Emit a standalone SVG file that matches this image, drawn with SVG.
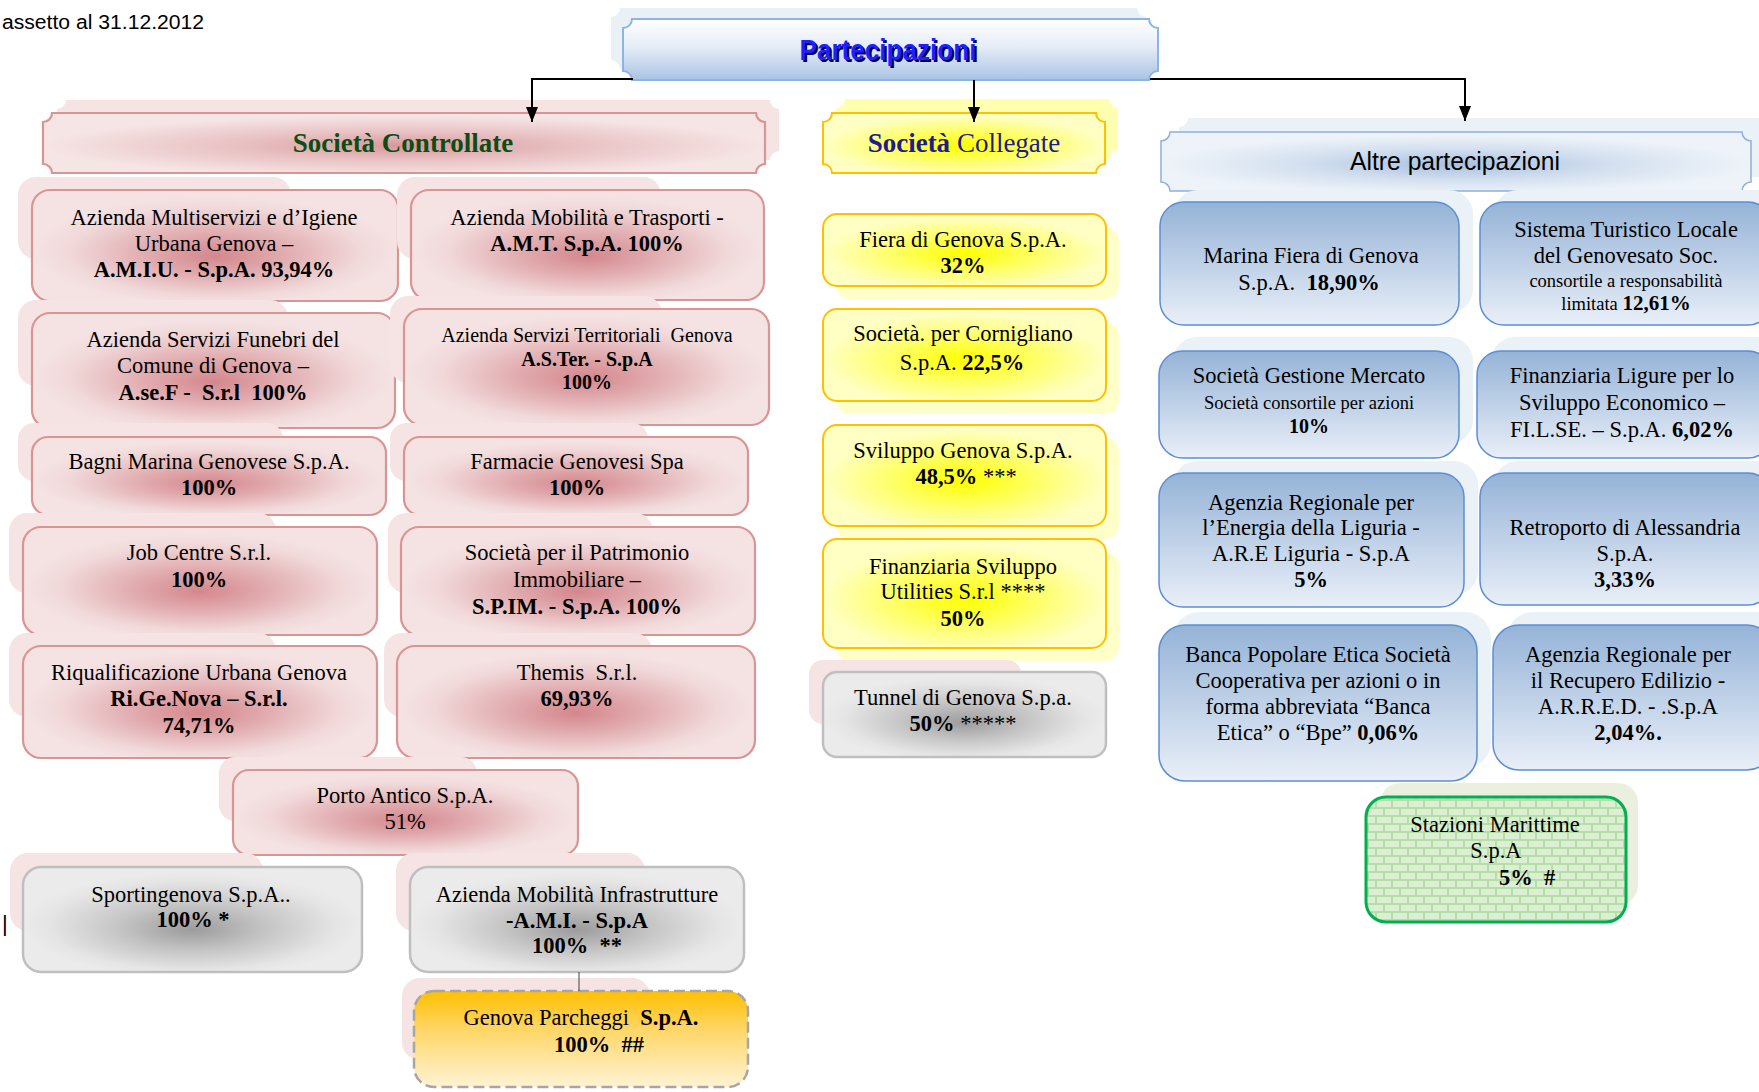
<svg xmlns="http://www.w3.org/2000/svg" width="1759" height="1092" viewBox="0 0 1759 1092">
<defs>
<radialGradient id="gPink" cx="50%" cy="55%" r="50%" fx="50%" fy="60%">
<stop offset="0" stop-color="#d4878d"/><stop offset="0.4" stop-color="#e2aeb1"/><stop offset="0.8" stop-color="#f1d9da"/><stop offset="1" stop-color="#f5e3e3"/>
</radialGradient>
<radialGradient id="gHeadPink" cx="50%" cy="55%" r="50%">
<stop offset="0" stop-color="#d8979a"/><stop offset="0.45" stop-color="#e8c0c2"/><stop offset="1" stop-color="#f6e5e5"/>
</radialGradient>
<radialGradient id="gGray" cx="50%" cy="55%" r="50%" fx="50%" fy="60%">
<stop offset="0" stop-color="#9c9c9c"/><stop offset="0.45" stop-color="#c6c6c6"/><stop offset="0.85" stop-color="#e5e5e5"/><stop offset="1" stop-color="#ebebeb"/>
</radialGradient>
<radialGradient id="gYellow" cx="50%" cy="55%" r="50%">
<stop offset="0" stop-color="#ffff00"/><stop offset="0.5" stop-color="#ffff66"/><stop offset="1" stop-color="#ffffc4"/>
</radialGradient>
<linearGradient id="gBlue" x1="0" y1="0" x2="0" y2="1">
<stop offset="0" stop-color="#95b3d7"/><stop offset="1" stop-color="#e9eff8"/>
</linearGradient>
<linearGradient id="gHeadBlue" x1="0" y1="0" x2="0" y2="1">
<stop offset="0" stop-color="#ffffff"/><stop offset="0.45" stop-color="#e6edf7"/><stop offset="1" stop-color="#a9c3e4"/>
</linearGradient>
<radialGradient id="gAltre" cx="50%" cy="55%" r="50%">
<stop offset="0" stop-color="#a8c0df"/><stop offset="0.55" stop-color="#d5e1f0"/><stop offset="1" stop-color="#eef3f9"/>
</radialGradient>
<linearGradient id="gOrange" x1="0" y1="0" x2="0" y2="1">
<stop offset="0" stop-color="#ffbf00"/><stop offset="0.4" stop-color="#ffd666"/><stop offset="1" stop-color="#fff3d4"/>
</linearGradient>
<pattern id="pBrick" width="16" height="16" patternUnits="userSpaceOnUse">
<rect width="16" height="16" fill="#b4dfa6"/>
<rect x="1" y="1" width="14" height="6" fill="#dcefd5"/>
<rect x="9" y="9" width="14" height="6" fill="#dcefd5"/>
<rect x="-7" y="9" width="14" height="6" fill="#dcefd5"/>
</pattern>
<marker id="arr" markerWidth="16" markerHeight="12" refX="15" refY="6" orient="auto" markerUnits="userSpaceOnUse">
<path d="M0,0 L15,6 L0,12 Z" fill="#000"/>
</marker>
</defs>
<style>
.t{font-family:"Liberation Serif","Times New Roman",serif;font-size:22.5px;fill:#000;text-anchor:middle}
.b{font-weight:bold}
.s{font-size:18.5px}
.m{font-size:20px}
.pk{fill:url(#gPink);stroke:#d99594;stroke-width:2.2}
.gy{fill:url(#gGray);stroke:#bfbfbf;stroke-width:2.5}
.yl{fill:url(#gYellow);stroke:#ffc000;stroke-width:2}
.bl{fill:url(#gBlue);stroke:#5b8fd6;stroke-width:1.5}
.shp{fill:#f6e4e4}
.shy{fill:#ffffc9}
.shb{fill:#eaf2f7}
.con{fill:none;stroke:#000;stroke-width:2}
</style>
<rect width="1759" height="1092" fill="#fff"/>

<text x="2" y="29" font-family="'Liberation Sans',Arial,sans-serif" font-size="20" textLength="202" lengthAdjust="spacingAndGlyphs">assetto  al 31.12.2012</text>
<text x="2" y="931" font-family="'Liberation Sans',Arial,sans-serif" font-size="22">|</text>

<g id="partecipazioni">
<path transform="translate(-12,-11)" fill="#e9f1f6" d="M632,19 H1149 A9,9 0 0 0 1158,28 V71 A9,9 0 0 0 1149,80 H632 A9,9 0 0 0 623,71 V28 A9,9 0 0 0 632,19 Z"/>
<path fill="url(#gHeadBlue)" stroke="#8eb4e3" stroke-width="2" d="M632,19 H1149 A9,9 0 0 0 1158,28 V71 A9,9 0 0 0 1149,80 H632 A9,9 0 0 0 623,71 V28 A9,9 0 0 0 632,19 Z"/>
<text x="890" y="61.5" text-anchor="middle" font-family="'Liberation Sans',Arial,sans-serif" font-weight="bold" font-size="30" fill="#00004d" textLength="177" lengthAdjust="spacingAndGlyphs">Partecipazioni</text>
<text x="888" y="60" text-anchor="middle" font-family="'Liberation Sans',Arial,sans-serif" font-weight="bold" font-size="30" fill="#1f1fff" textLength="177" lengthAdjust="spacingAndGlyphs">Partecipazioni</text>
</g>

<g id="controllate">
<path transform="translate(14,-13)" class="shp" d="M52,113 H756 A9,9 0 0 0 765,122 V164 A9,9 0 0 0 756,173 H52 A9,9 0 0 0 43,164 V122 A9,9 0 0 0 52,113 Z"/>
<path fill="url(#gHeadPink)" stroke="#d99594" stroke-width="2.2" d="M52,113 H756 A9,9 0 0 0 765,122 V164 A9,9 0 0 0 756,173 H52 A9,9 0 0 0 43,164 V122 A9,9 0 0 0 52,113 Z"/>
<text class="t b" x="403" y="152" style="fill:#0b4d16;font-size:27px">Società Controllate</text>
</g>

<g id="collegate">
<path transform="translate(13,-14)" fill="#ffffb0" d="M832,113 H1096 A9,9 0 0 0 1105,122 V164 A9,9 0 0 0 1096,173 H832 A9,9 0 0 0 823,164 V122 A9,9 0 0 0 832,113 Z"/>
<path fill="url(#gYellow)" stroke="#ffc000" stroke-width="2" d="M832,113 H1096 A9,9 0 0 0 1105,122 V164 A9,9 0 0 0 1096,173 H832 A9,9 0 0 0 823,164 V122 A9,9 0 0 0 832,113 Z"/>
<text class="t" x="964" y="152" style="fill:#1c1c8c;font-size:27px"><tspan font-weight="bold">Società</tspan> Collegate</text>
</g>

<g id="altre">
<path transform="translate(18,-14)" class="shb" d="M1170,132 H1742 A9,9 0 0 0 1751,141 V182 A9,9 0 0 0 1742,191 H1170 A9,9 0 0 0 1161,182 V141 A9,9 0 0 0 1170,132 Z"/>
<path fill="url(#gAltre)" stroke="#8eb0d9" stroke-width="1.5" d="M1170,132 H1742 A9,9 0 0 0 1751,141 V182 A9,9 0 0 0 1742,191 H1170 A9,9 0 0 0 1161,182 V141 A9,9 0 0 0 1170,132 Z"/>
<text x="1455" y="170" text-anchor="middle" font-family="'Liberation Sans',Arial,sans-serif" font-size="26" fill="#000" textLength="210" lengthAdjust="spacingAndGlyphs">Altre partecipazioni</text>
</g>

<!-- Controllate nodes -->
<g id="amiu">
<rect class="shp" x="18" y="177" width="273" height="82" rx="18"/>
<rect class="pk" x="32" y="190" width="366" height="111" rx="18"/>
<text class="t" x="214" y="225">Azienda Multiservizi e d’Igiene</text>
<text class="t" x="214" y="251">Urbana Genova –</text>
<text class="t b" x="214" y="277">A.M.I.U. - S.p.A. 93,94%</text>
</g>
<g id="amt">
<rect class="shp" x="397" y="177" width="264" height="82" rx="18"/>
<rect class="pk" x="411" y="190" width="353" height="110" rx="18"/>
<text class="t" x="587" y="225">Azienda Mobilità e Trasporti -</text>
<text class="t b" x="587" y="251">A.M.T. S.p.A. 100%</text>
</g>
<g id="asef">
<rect class="shp" x="18" y="300" width="270" height="86" rx="18"/>
<rect class="pk" x="32" y="313" width="363" height="115" rx="18"/>
<text class="t" x="213" y="347">Azienda Servizi Funebri del</text>
<text class="t" x="213" y="373">Comune di Genova –</text>
<text class="t b" x="213" y="400" xml:space="preserve">A.se.F -  S.r.l  100%</text>
</g>
<g id="aster">
<rect class="shp" x="390" y="296" width="272" height="87" rx="18"/>
<rect class="pk" x="404" y="309" width="365" height="116" rx="18"/>
<text class="t m" x="587" y="342" xml:space="preserve">Azienda Servizi Territoriali  Genova</text>
<text class="t b m" x="587" y="366">A.S.Ter. - S.p.A</text>
<text class="t b m" x="587" y="389">100%</text>
</g>
<g id="bagni">
<rect class="shp" x="18" y="423" width="265" height="58" rx="16"/>
<rect class="pk" x="32" y="437" width="354" height="78" rx="16"/>
<text class="t" x="209" y="469">Bagni Marina Genovese S.p.A.</text>
<text class="t b" x="209" y="495">100%</text>
</g>
<g id="farmacie">
<rect class="shp" x="390" y="423" width="258" height="58" rx="16"/>
<rect class="pk" x="404" y="437" width="344" height="78" rx="16"/>
<text class="t" x="577" y="469">Farmacie Genovesi Spa</text>
<text class="t b" x="577" y="495">100%</text>
</g>
<g id="jobcentre">
<rect class="shp" x="9" y="513" width="267" height="80" rx="18"/>
<rect class="pk" x="23" y="527" width="354" height="108" rx="18"/>
<text class="t" x="199" y="560">Job Centre S.r.l.</text>
<text class="t b" x="199" y="587">100%</text>
</g>
<g id="spim">
<rect class="shp" x="388" y="513" width="265" height="80" rx="18"/>
<rect class="pk" x="401" y="527" width="354" height="108" rx="18"/>
<text class="t" x="577" y="560">Società per il Patrimonio</text>
<text class="t" x="577" y="587">Immobiliare –</text>
<text class="t b" x="577" y="614">S.P.IM. - S.p.A. 100%</text>
</g>
<g id="rigenova">
<rect class="shp" x="9" y="633" width="267" height="84" rx="18"/>
<rect class="pk" x="23" y="646" width="354" height="112" rx="18"/>
<text class="t" x="199" y="680">Riqualificazione Urbana Genova</text>
<text class="t b" x="199" y="706">Ri.Ge.Nova – S.r.l.</text>
<text class="t b" x="199" y="733">74,71%</text>
</g>
<g id="themis">
<rect class="shp" x="384" y="633" width="268" height="84" rx="18"/>
<rect class="pk" x="397" y="646" width="358" height="112" rx="18"/>
<text class="t" x="577" y="680" xml:space="preserve">Themis  S.r.l.</text>
<text class="t b" x="577" y="706">69,93%</text>
</g>
<g id="portoantico">
<rect class="shp" x="219" y="757" width="258" height="64" rx="16"/>
<rect class="pk" x="233" y="770" width="345" height="85" rx="16"/>
<text class="t" x="405" y="803">Porto Antico S.p.A.</text>
<text class="t" x="405" y="829">51%</text>
</g>
<g id="sportingenova">
<rect class="shp" x="10" y="853" width="253" height="78" rx="18"/>
<rect class="gy" x="23" y="867" width="339" height="105" rx="18"/>
<text class="t" x="191" y="902">Sportingenova S.p.A..</text>
<text class="t b" x="193" y="927">100% *</text>
</g>
<g id="ami">
<rect class="shp" x="396" y="853" width="249" height="78" rx="18"/>
<rect class="gy" x="410" y="867" width="334" height="105" rx="18"/>
<text class="t" x="577" y="902">Azienda Mobilità Infrastrutture</text>
<text class="t b" x="577" y="928">-A.M.I. - S.p.A</text>
<text class="t b" x="577" y="953" xml:space="preserve">100%  **</text>
</g>
<g id="genovaparcheggi">
<rect class="shp" x="402" y="978" width="248" height="82" rx="18"/>
<rect x="414" y="991" width="334" height="96" rx="20" fill="url(#gOrange)" stroke="#a6a6a6" stroke-width="2.5" stroke-dasharray="11 5"/>
<text class="t" x="581" y="1025" xml:space="preserve">Genova Parcheggi  <tspan font-weight="bold">S.p.A.</tspan></text>
<text class="t b" x="599" y="1052" xml:space="preserve">100%  ##</text>
</g>

<!-- Collegate nodes -->
<g id="fiera">
<rect class="shy" x="836" y="227" width="283" height="72" rx="14"/>
<rect class="yl" x="823" y="214" width="283" height="72" rx="14"/>
<text class="t" x="963" y="247">Fiera di Genova S.p.A.</text>
<text class="t b" x="963" y="273">32%</text>
</g>
<g id="cornigliano">
<rect class="shy" x="836" y="322" width="283" height="92" rx="14"/>
<rect class="yl" x="823" y="309" width="283" height="92" rx="14"/>
<text class="t" x="963" y="341">Società. per Cornigliano</text>
<text class="t" x="962" y="370">S.p.A. <tspan font-weight="bold">22,5%</tspan></text>
</g>
<g id="sviluppogenova">
<rect class="shy" x="836" y="438" width="283" height="101" rx="14"/>
<rect class="yl" x="823" y="425" width="283" height="101" rx="14"/>
<text class="t" x="963" y="458">Sviluppo Genova S.p.A.</text>
<text class="t" x="966" y="484"><tspan font-weight="bold">48,5%</tspan> ***</text>
</g>
<g id="fsu">
<rect class="shy" x="836" y="552" width="283" height="109" rx="14"/>
<rect class="yl" x="823" y="539" width="283" height="109" rx="14"/>
<text class="t" x="963" y="574">Finanziaria Sviluppo</text>
<text class="t" x="963" y="599">Utilities S.r.l ****</text>
<text class="t b" x="963" y="626">50%</text>
</g>
<g id="tunnel">
<rect class="shp" x="809" y="660" width="212" height="64" rx="14"/>
<rect class="gy" x="823" y="672" width="283" height="85" rx="14"/>
<text class="t" x="963" y="705">Tunnel di Genova S.p.a.</text>
<text class="t" x="963" y="731"><tspan font-weight="bold">50%</tspan> *****</text>
</g>

<!-- Altre nodes -->
<g id="marinafiera">
<rect class="shb" x="1174" y="190" width="299" height="123" rx="24"/>
<rect class="bl" x="1160" y="202" width="299" height="123" rx="24"/>
<text class="t" x="1311" y="263">Marina Fiera di Genova</text>
<text class="t" x="1309" y="290" xml:space="preserve">S.p.A.  <tspan font-weight="bold">18,90%</tspan></text>
</g>
<g id="sistematuristico">
<rect class="shb" x="1494" y="190" width="290" height="123" rx="24"/>
<rect class="bl" x="1480" y="202" width="292" height="123" rx="24"/>
<text class="t" x="1626" y="237">Sistema Turistico Locale</text>
<text class="t" x="1626" y="263">del Genovesato Soc.</text>
<text class="t s" x="1626" y="287">consortile a responsabilità</text>
<text class="t s" x="1626" y="310">limitata <tspan font-weight="bold" style="font-size:21px">12,61%</tspan></text>
</g>
<g id="gestionemercato">
<rect class="shb" x="1173" y="337" width="300" height="107" rx="24"/>
<rect class="bl" x="1159" y="351" width="300" height="107" rx="24"/>
<text class="t" x="1309" y="383">Società Gestione Mercato</text>
<text class="t s" x="1309" y="409">Società consortile per azioni</text>
<text class="t b s" x="1309" y="433" style="font-size:20px">10%</text>
</g>
<g id="filse">
<rect class="shb" x="1491" y="337" width="295" height="107" rx="24"/>
<rect class="bl" x="1477" y="351" width="295" height="107" rx="24"/>
<text class="t" x="1622" y="383">Finanziaria Ligure per lo</text>
<text class="t" x="1622" y="410">Sviluppo Economico –</text>
<text class="t" x="1622" y="437">FI.L.SE. – S.p.A. <tspan font-weight="bold">6,02%</tspan></text>
</g>
<g id="areliguria">
<rect class="shb" x="1173" y="461" width="305" height="134" rx="24"/>
<rect class="bl" x="1159" y="473" width="305" height="134" rx="24"/>
<text class="t" x="1311" y="510">Agenzia Regionale per</text>
<text class="t" x="1311" y="535">l’Energia della Liguria -</text>
<text class="t" x="1311" y="561">A.R.E Liguria - S.p.A</text>
<text class="t b" x="1311" y="587">5%</text>
</g>
<g id="retroporto">
<rect class="shb" x="1494" y="461" width="292" height="132" rx="24"/>
<rect class="bl" x="1480" y="473" width="292" height="132" rx="24"/>
<text class="t" x="1625" y="535">Retroporto di Alessandria</text>
<text class="t" x="1625" y="561">S.p.A.</text>
<text class="t b" x="1625" y="587">3,33%</text>
</g>
<g id="bancaetica">
<rect class="shb" x="1173" y="612" width="318" height="156" rx="26"/>
<rect class="bl" x="1159" y="625" width="318" height="156" rx="26"/>
<text class="t" x="1318" y="662">Banca Popolare Etica Società</text>
<text class="t" x="1318" y="688">Cooperativa per azioni o in</text>
<text class="t" x="1318" y="714">forma abbreviata “Banca</text>
<text class="t" x="1318" y="740">Etica” o “Bpe” <tspan font-weight="bold">0,06%</tspan></text>
</g>
<g id="arred">
<rect class="shb" x="1507" y="612" width="280" height="145" rx="26"/>
<rect class="bl" x="1493" y="625" width="280" height="145" rx="26"/>
<text class="t" x="1628" y="662">Agenzia Regionale per</text>
<text class="t" x="1628" y="688">il Recupero Edilizio -</text>
<text class="t" x="1628" y="714">A.R.R.E.D. - .S.p.A</text>
<text class="t b" x="1628" y="740">2,04%.</text>
</g>
<g id="stazionimarittime">
<rect x="1380" y="783" width="258" height="122" rx="20" fill="#ebf0de"/>
<rect x="1366" y="797" width="260" height="125" rx="20" fill="url(#pBrick)" stroke="#00b050" stroke-width="3"/>
<text class="t" x="1495" y="832">Stazioni Marittime</text>
<text class="t" x="1496" y="858">S.p.A</text>
<text class="t b" x="1527" y="885" xml:space="preserve">5%  #</text>
</g>

<g id="connectors">
<path class="con" d="M633,79 H532 V122" marker-end="url(#arr)"/>
<path class="con" d="M974,80 V122" marker-end="url(#arr)"/>
<path class="con" d="M1150,79 H1465 V121" marker-end="url(#arr)"/>
<path d="M579,972 V991" fill="none" stroke="#404040" stroke-width="1"/>
</g>
</svg>
